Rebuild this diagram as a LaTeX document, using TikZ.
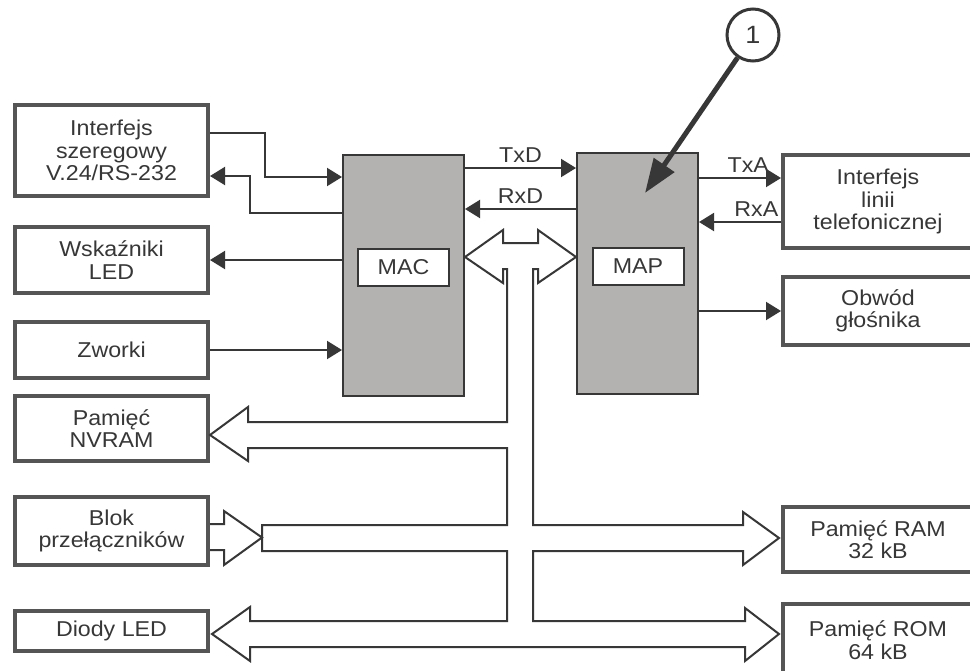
\documentclass[tikz,border=0pt]{standalone}
\usepackage{fontspec}
\setmainfont[FakeStretch=1.08]{Liberation Sans}
\usetikzlibrary{arrows.meta}
\definecolor{ink}{RGB}{55,55,55}
\definecolor{frame}{RGB}{85,85,85}
\definecolor{chipgray}{RGB}{180,177,177}

\begin{document}
\begin{tikzpicture}[x=1pt, y=-1pt,
    every node/.style={align=center, text=ink, font=\fontsize{21.5}{22.5}\selectfont},
    box/.style={draw=frame, line width=4pt, fill=white, inner sep=0pt},
    chip/.style={draw=ink, line width=2pt, fill=chipgray, minimum width=121pt, minimum height=241pt},
    tag/.style={draw=ink, line width=2pt, fill=white, minimum width=91pt, minimum height=37pt, inner sep=0pt},
    conn/.style={draw=ink, line width=2pt, -{Triangle[length=15pt,width=18pt]}},
    bus/.style={draw=ink, line width=2pt, fill=white, line join=miter}]
    \useasboundingbox (0,0) rectangle (970,670);
    \clip (0,0) rectangle (970,670);
    \fill[white] (0,0) rectangle (970,670);

    % left column
    \node[box, minimum width=193pt, minimum height=91pt] (szer) at (111.5,150.5) {Interfejs\\szeregowy\\V.24/RS-232};
    \node[box, minimum width=193pt, minimum height=66pt] (wsk) at (111.5,260) {Wskaźniki\\LED};
    \node[box, minimum width=193pt, minimum height=56pt] (zworki) at (111.5,350) {Zworki};
    \node[box, minimum width=193pt, minimum height=65pt] (nvram) at (111.5,428.5) {Pamięć\\NVRAM};
    \node[box, minimum width=193pt, minimum height=68pt] (blok) at (111.5,531) {Blok\\przełączników};
    \node[box, minimum width=193pt, minimum height=40pt] (diody) at (111.5,631) {Diody LED};

    % the two chips
    \node[chip] (mac) at (403.5,275.5) {};
    \node[tag] (mactag) at (403.5,267.5) {MAC};
    \node[chip] (map) at (637.5,273.5) {};
    \node[tag] (maptag) at (638,266) {MAP};

    % right column
    \node[box, minimum width=190pt, minimum height=93pt] (linia) at (878,201.5) {Interfejs\\linii\\telefonicznej};
    \node[box, minimum width=190pt, minimum height=68pt] (glosnik) at (878,311) {Obwód\\głośnika};
    \node[box, minimum width=190pt, minimum height=65pt] (ram) at (878,539.5) {Pamięć RAM\\32 kB};
    \node[box, minimum width=190pt, minimum height=72pt] (rom) at (878,640) {Pamięć ROM\\64 kB};

    % signals
    \draw[conn] ([yshift=17.5pt]szer.east) -| (265,177) -- ([yshift=98.5pt]mac.west);
    \draw[conn] ([yshift=62.5pt]mac.west) -| (250,176) -- ([yshift=-25.5pt]szer.east);
    \draw[conn] (mac.west |- wsk.east) -- (wsk.east);
    \draw[conn] (zworki.east) -- (zworki.east -| mac.west);
    \draw[conn] ([yshift=107.5pt]mac.east) -- ([yshift=105.5pt]map.west) node[midway, above=1pt] {TxD};
    \draw[conn] ([yshift=64.5pt]map.west) -- ([yshift=66.5pt]mac.east) node[midway, above=1pt] {RxD};
    \draw[conn] ([yshift=23.5pt]linia.west -| map.east) -- ([yshift=23.5pt]linia.west) node[pos=0.6, above=1pt] {TxA};
    \draw[conn] ([yshift=-20.5pt]linia.west) -- ([yshift=-20.5pt]linia.west -| map.east) node[pos=0.3, above=1pt] {RxA};
    \draw[conn] (map.east |- glosnik.west) -- (glosnik.west);

    % data bus
    \draw[bus] (465,257) -- (503,230) -- (503,243) -- (538,243) -- (538,230) -- (576,257)
        -- (538,283) -- (538,269) -- (533,269) -- (533,525) -- (743,525) -- (743,512)
        -- (779,538) -- (743,565) -- (743,551) -- (533,551) -- (533,621) -- (745,621)
        -- (745,608) -- (779,634) -- (745,661) -- (745,647) -- (250,647) -- (250,661)
        -- (212,634) -- (250,607) -- (250,621) -- (507,621) -- (507,551) -- (262,551)
        -- (262,525) -- (507,525) -- (507,448) -- (248,448) -- (248,461) -- (210,435)
        -- (248,407) -- (248,422) -- (507,422) -- (507,269) -- (503,269) -- (503,283) -- cycle;
    \draw[bus] (blok.east |- 0,524) -- (224,524) -- (224,511) -- (262,537.5) -- (224,565)
        -- (224,550) -- (blok.east |- 0,550);

    % callout
    \node[draw=ink, line width=3pt, circle, minimum size=52pt, inner sep=0pt,
        font=\fontsize{25}{25}\selectfont] (num) at (753,35) {1};
    \coordinate (mapptr) at (645,193);
    \draw[draw=ink, line width=5pt, -{Triangle[length=34pt,width=24pt]}] (num) -- (mapptr);
\end{tikzpicture}
\end{document}
